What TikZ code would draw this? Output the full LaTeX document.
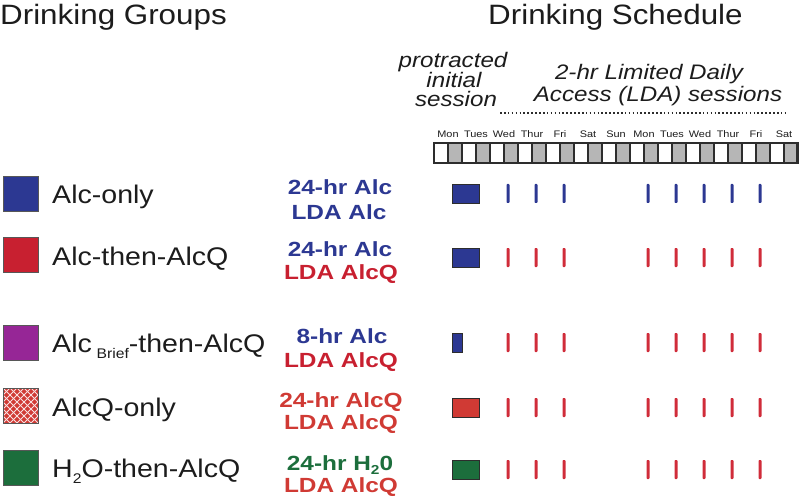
\documentclass[tikz,border=0pt]{standalone}
\usepackage{fontspec}
\setmainfont{Liberation Sans}
\usepackage{graphicx}
\newcommand\sx[2][1.12]{\scalebox{#1}[1]{#2}}
\definecolor{cblue}{RGB}{44,56,146}
\definecolor{cred}{RGB}{200,32,48}
\definecolor{ctick}{RGB}{208,44,58}
\definecolor{cred2}{RGB}{208,58,52}
\definecolor{cpurple}{RGB}{150,38,150}
\definecolor{cgreen}{RGB}{28,110,60}
\definecolor{cgray}{RGB}{182,182,182}
\definecolor{cdark}{RGB}{45,45,45}
\definecolor{ctxt}{RGB}{28,28,28}
\begin{document}
\begin{tikzpicture}[x=1pt,y=-1pt,
  title/.style={font=\fontsize{28}{30}\selectfont, text=ctxt, inner sep=0pt, anchor=base west},
  grp/.style={font=\fontsize{25.5}{27}\selectfont, text=ctxt, inner sep=0pt, anchor=base west},
  mid/.style={font=\fontsize{20.5}{22}\selectfont\bfseries, inner sep=0pt, anchor=base},
  ital/.style={font=\fontsize{21}{23}\selectfont\itshape, text=ctxt, inner sep=0pt, anchor=base},
  day/.style={font=\fontsize{9.5}{10}\selectfont, text=ctxt, inner sep=0pt, anchor=base},
  dotline/.style={cdark, line width=1.9pt, dash pattern=on 1.6pt off 2.3pt},
  cellw/.style={draw=cdark, line width=1.3pt, fill=white},
  cellg/.style={draw=cdark, line width=1.3pt, fill=cgray},
  sq/.style={draw=cdark!80, line width=0.9pt},
  blk/.style={draw=cdark, line width=0.9pt},
  tick/.style={rounded corners=0.8pt}
]
\useasboundingbox (0,0) rectangle (800,497);
% titles
\node[title] (tg) at (0,25) {\sx{Drinking Groups}};
\node[title] (ts) at (488,25) {\sx{Drinking Schedule}};
% session headings
\node[ital] (p1) at (453,68) {\sx[1.15]{protracted}};
\node[ital] (p2) at (454,88) {\sx[1.15]{initial}};
\node[ital] (p3) at (456,107) {\sx[1.15]{session}};
\node[ital] (l1) at (649,80) {\sx[1.15]{2-hr Limited Daily}};
\node[ital] (l2) at (658,102) {\sx[1.15]{Access (LDA) sessions}};
\coordinate (ds) at (500,113);
\coordinate (de) at (788,113);
\draw[dotline] (ds) -- (de);
% day labels
\foreach \d [count=\i from 0] in {Mon,Tues,Wed,Thur,Fri,Sat,Sun,Mon,Tues,Wed,Thur,Fri,Sat}
  \node[day] (d\i) at (448+28*\i,138) {\sx[1.15]{\d}};
% bar
\foreach \i in {0,...,12} {
  \draw[cellw] (434+28*\i,143) rectangle +(14,20);
  \draw[cellg] (448+28*\i,143) rectangle +(14,20);
}
\draw[cdark, line width=2pt] (434,143) rectangle (797,163);
% left squares
\draw[sq, fill=cblue] (3,176) rectangle (38,211);
\draw[sq, fill=cred] (3,237) rectangle (38,272);
\draw[sq, fill=cpurple] (3,325) rectangle (38,360);
\begin{scope}
  \clip (3,388) rectangle (38,423);
  \fill[cred2] (3,388) rectangle (38,423);
  \foreach \k in {-42,-35,...,42} {
    \draw[white!85!cred2, line width=0.8pt] (3+\k,388) -- ++(35,35);
    \draw[white!85!cred2, line width=0.8pt] (3+\k,423) -- ++(35,-35);
  }
\end{scope}
\draw[sq] (3,388) rectangle (38,423);
\draw[sq, fill=cgreen] (3,450) rectangle (38,485);
% group labels
\node[grp] (g1) at (52,204) {\sx{Alc-only}};
\node[grp] (g2) at (52,265) {\sx{Alc-then-AlcQ}};
\node[grp] (g3) at (52,352) {\sx{Alc\,\raisebox{-6pt}{\fontsize{14}{14}\selectfont Brief}-then-AlcQ}};
\node[grp] (g4) at (52,416) {\sx{AlcQ-only}};
\node[grp] (g5) at (52,477) {\sx{H\raisebox{-6pt}{\fontsize{14}{14}\selectfont 2}O-then-AlcQ}};
% middle labels
\node[mid, text=cblue] (m1a) at (340,195) {\sx[1.19]{24-hr Alc}};
\node[mid, text=cblue] (m1b) at (339,219) {\sx[1.19]{LDA Alc}};
\node[mid, text=cblue] (m2a) at (340,256) {\sx[1.19]{24-hr Alc}};
\node[mid, text=cred] (m2b) at (341,279) {\sx[1.19]{LDA AlcQ}};
\node[mid, text=cblue] (m3a) at (342,343) {\sx[1.19]{8-hr Alc}};
\node[mid, text=cred] (m3b) at (341,367) {\sx[1.19]{LDA AlcQ}};
\node[mid, text=cred2] (m4a) at (341,407) {\sx[1.19]{24-hr AlcQ}};
\node[mid, text=cred2] (m4b) at (341,429) {\sx[1.19]{LDA AlcQ}};
\node[mid, text=cgreen] (m5a) at (340,470) {\sx[1.19]{24-hr H\raisebox{-4pt}{\fontsize{13}{13}\selectfont 2}0}};
\node[mid, text=cred2] (m5b) at (341,492) {\sx[1.19]{LDA AlcQ}};
% schedule blocks
\draw[blk, fill=cblue] (452,184) rectangle (479,203);
\draw[blk, fill=cblue] (452,248) rectangle (479,267);
\draw[blk, fill=cblue] (452,333) rectangle (462,352);
\draw[blk, fill=cred2] (452,398) rectangle (479,417);
\draw[blk, fill=cgreen] (452,460) rectangle (479,479);
% ticks
\foreach \yy/\c in {193.5/cblue, 257.5/ctick, 342.5/ctick, 407.5/ctick, 469.5/ctick}
  \foreach \i in {2,3,4,7,8,9,10,11}
    \fill[tick, \c] (450.5+28*\i,\yy-9.5) rectangle +(3,19);
\end{tikzpicture}
\end{document}
